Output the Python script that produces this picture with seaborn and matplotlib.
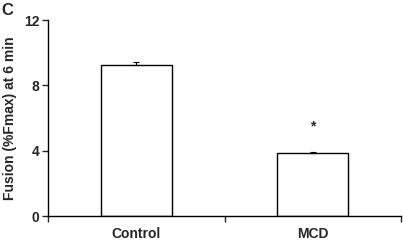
import matplotlib
matplotlib.use("Agg")
import matplotlib.pyplot as plt
import seaborn as sns
import pandas as pd

categories = ["Control", "MCD"]
means = [9.25, 3.83]
errors = [0.2, 0.1]
star_labels = ["", "*"]
yticks = [0, 4, 8, 12]

sns.set_style("ticks")
plt.rcParams['font.family'] = ['Liberation Sans', 'DejaVu Sans']
plt.rcParams['font.weight'] = 'bold'

df = pd.DataFrame({"cond": categories, "val": means})

fig = plt.figure(figsize=(4.03, 2.40), dpi=100)
ax = fig.add_axes([48/403, 24/240, 353/403, 196/240])

sns.barplot(data=df, x="cond", y="val", ax=ax, color="white", edgecolor="black",
            linewidth=1.0, width=0.40, errorbar=None)
ax.errorbar(range(len(categories)), means, yerr=[[0]*len(errors), errors], fmt="none",
            ecolor="black", elinewidth=0.8, capsize=2.5, capthick=0.8)
for i, s in enumerate(star_labels):
    if s:
        ax.text(i, means[i] + errors[i] + 1.1, s, ha="center", va="bottom",
                fontsize=10, fontweight="bold")

ax.set_xlim(-0.5, 1.5)
ax.set_ylim(0, 12)
ax.set_yticks(yticks)
ax.set_yticklabels([str(t) for t in yticks], fontsize=10, fontweight="bold")
ax.set_xticks([-0.5, 0.5, 1.5], minor=False)
ax.set_xticklabels([])
ax.set_xticks([0, 1], minor=True)
ax.set_xticklabels(categories, minor=True, fontsize=10, fontweight="bold")
ax.tick_params(axis="x", which="minor", length=0, pad=8)
ax.tick_params(axis="x", which="major", length=4, width=1, direction="out")
ax.tick_params(axis="y", length=4, width=1, direction="out", pad=2)
ax.set_xlabel("")
ax.set_ylabel("Fusion (%Fmax) at 6 min", fontsize=10, fontweight="bold", labelpad=5)
for sp in ["top", "right"]:
    ax.spines[sp].set_visible(False)
for sp in ["left", "bottom"]:
    ax.spines[sp].set_linewidth(1.0)
    ax.spines[sp].set_color("black")

fig.text(1/403, 1 - 3/240, "C", ha="left", va="top", fontsize=12, fontweight="bold")

fig.savefig("out.png", dpi=100)
